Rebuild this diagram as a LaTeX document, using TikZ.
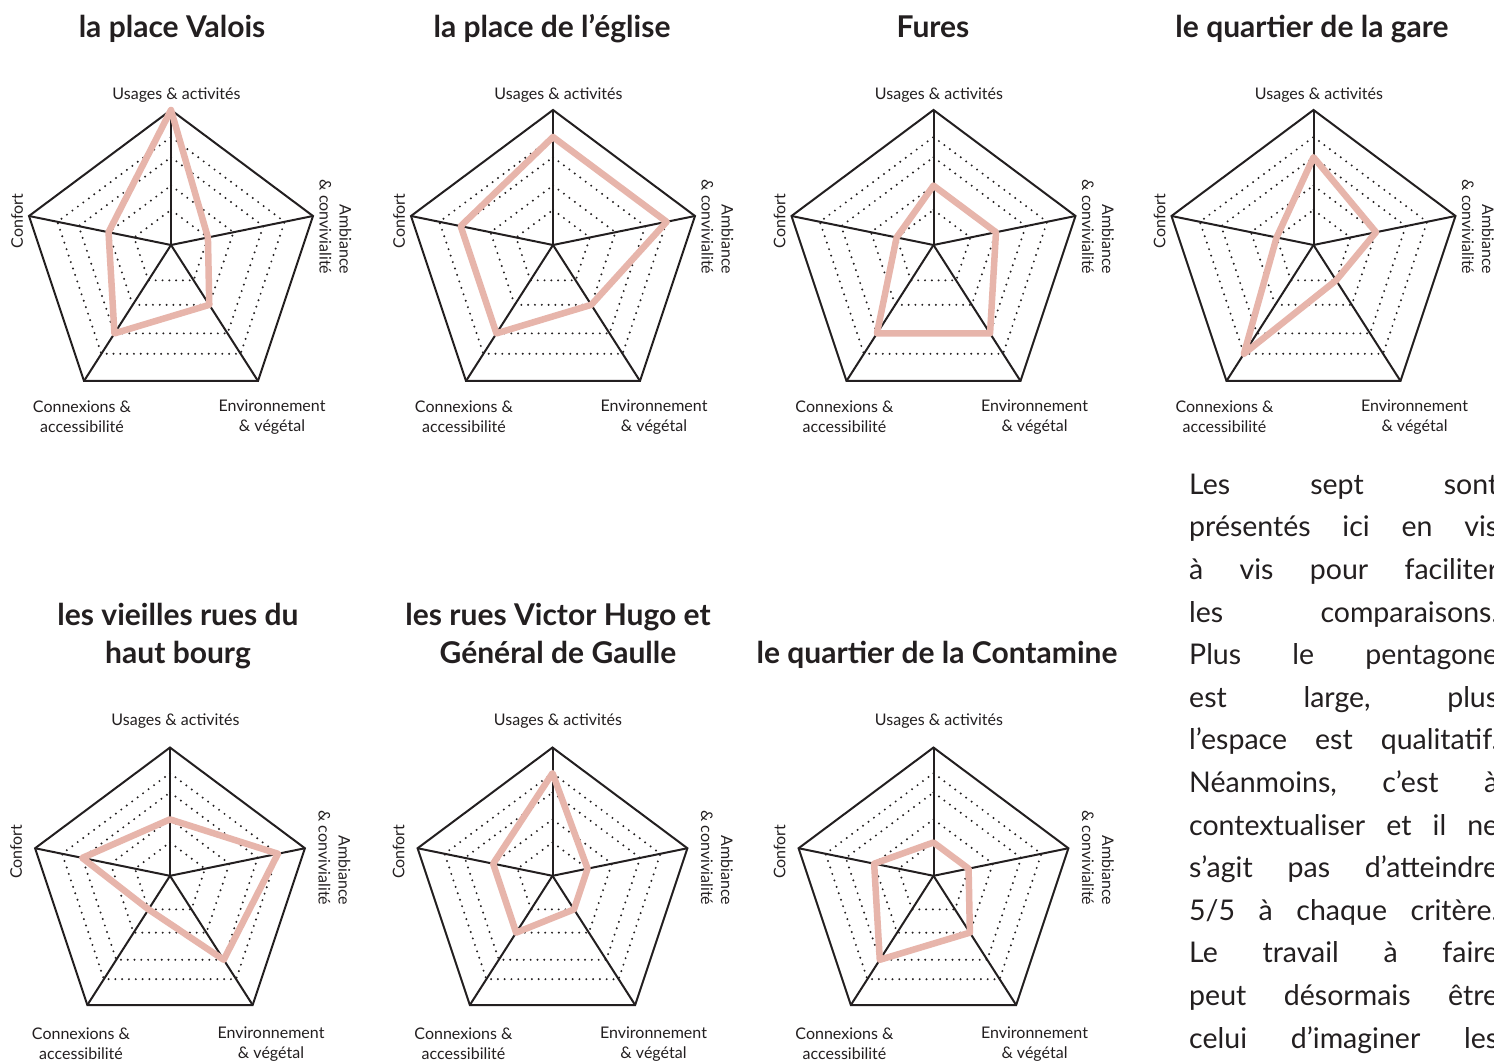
\documentclass[tikz,border=0pt]{standalone}
\usepackage{fontspec}
\setmainfont{Lato}
\usetikzlibrary{calc}
\definecolor{ink}{RGB}{35,31,32}
\definecolor{rose}{RGB}{231,181,171}
\tikzset{
  frame/.style={ink, line width=2pt, line join=miter},
  dotl/.style={ink, line width=2.2pt, line cap=round, dash pattern=on 0pt off 6.8pt},
  score/.style={rose, line width=6.5pt, line join=round},
  lbl/.style={ink, inner sep=0pt, font=\fontsize{16}{20}\selectfont},
  ttl/.style={ink, inner sep=0pt, anchor=base, font=\fontsize{30}{36}\selectfont\bfseries},
  para/.style={ink, inner sep=0pt, anchor=base west, font=\fontsize{28.5}{32}\selectfont},
}
% #1 name, #2 cx, #3 cy, #4 scale, #5..#9 usages, ambiance, environnement, connexions, confort
\newcommand\radarchart[9]{%
\begin{scope}[shift={(#2,#3)}]
  \coordinate (#1-o) at (0,0);
  \coordinate (#1-U) at (0,{-135*#4});
  \coordinate (#1-A) at ({142*#4},{-29*#4});
  \coordinate (#1-E) at ({87*#4},{136*#4});
  \coordinate (#1-C) at ({-87*#4},{136*#4});
  \coordinate (#1-F) at ({-142*#4},{-29*#4});
  \foreach \k in {0.26,0.44,0.65,0.8}
    \draw[dotl] ($(#1-o)!\k!(#1-U)$) -- ($(#1-o)!\k!(#1-A)$) -- ($(#1-o)!\k!(#1-E)$)
      -- ($(#1-o)!\k!(#1-C)$) -- ($(#1-o)!\k!(#1-F)$) -- cycle;
  \draw[frame] (#1-U) -- (#1-A) -- (#1-E) -- (#1-C) -- (#1-F) -- cycle;
  \foreach \v in {U,A,E,C,F} \draw[frame] (#1-o) -- (#1-\v);
  \draw[score] ($(#1-o)!#5!(#1-U)$) -- ($(#1-o)!#6!(#1-A)$) -- ($(#1-o)!#7!(#1-E)$)
      -- ($(#1-o)!#8!(#1-C)$) -- ($(#1-o)!#9!(#1-F)$) -- cycle;
  \node[lbl] (#1-lu) at (5.5,{-150-(1-#4)*100}) {Usages \& activités};
  \node[lbl, rotate=90] (#1-lf) at (-154,-24) {Confort};
  \node[lbl, rotate=-90, align=right] (#1-la) at (164.5,-18) {Ambiance\\\& convivialité};
  \node[lbl, align=center] (#1-lc) at (-89,{92+80*#4}) {Connexions \&\\accessibilité};
  \node[lbl, align=center] (#1-le) at (101,{92+80*#4}) {Environnement\\\& végétal};
\end{scope}}
\newcommand\jline[1]{\hbox to 309pt{#1}}
\begin{document}
\begin{tikzpicture}[x=1pt, y=-1pt]
  \fill[white] (0,0) rectangle (1494,1064);
  \useasboundingbox (0,0) rectangle (1494,1064);

  % titles
  \node[ttl] (t1) at (172,38) {la place Valois};
  \node[ttl] (t2) at (552,38) {la place de l’église};
  \node[ttl] (t3) at (933,38) {Fures};
  \node[ttl] (t4) at (1312,38) {le quartier de la gare};
  \node[ttl] (t5a) at (178,625) {les vieilles rues du};
  \node[ttl] (t5b) at (178,663) {haut bourg};
  \node[ttl] (t6a) at (558,625) {les rues Victor Hugo et};
  \node[ttl] (t6b) at (558,663) {Général de Gaulle};
  \node[ttl] (t7) at (937,663) {le quartier de la Contamine};

  % charts
  \radarchart{c1}{171}{245}{1}{1}{0.26}{0.44}{0.65}{0.44}
  \radarchart{c2}{553}{245}{1}{0.8}{0.8}{0.44}{0.65}{0.65}
  \radarchart{c3}{933.5}{245}{1}{0.44}{0.44}{0.65}{0.65}{0.26}
  \radarchart{c4}{1313.5}{245}{1}{0.65}{0.44}{0.26}{0.8}{0.26}
  \radarchart{c5}{170}{875.8}{0.95}{0.44}{0.8}{0.65}{0.26}{0.65}
  \radarchart{c6}{552.5}{875.8}{0.95}{0.8}{0.26}{0.26}{0.44}{0.44}
  \radarchart{c7}{933.5}{875.8}{0.95}{0.26}{0.26}{0.44}{0.65}{0.44}

  % paragraph
  \node[para] (p1)  at (1189,494.3) {\jline{Les\hfill sept\hfill sont}};
  \node[para] (p2)  at (1189,536.9) {\jline{présentés\hfill ici\hfill en\hfill vis}};
  \node[para] (p3)  at (1189,579.5) {\jline{à\hfill vis\hfill pour\hfill faciliter}};
  \node[para] (p4)  at (1189,622.1) {\jline{les\hfill comparaisons.}};
  \node[para] (p5)  at (1189,664.7) {\jline{Plus\hfill le\hfill pentagone}};
  \node[para] (p6)  at (1189,707.3) {\jline{est\hfill large,\hfill plus}};
  \node[para] (p7)  at (1189,749.9) {\jline{l’espace\hfill est\hfill qualitatif.}};
  \node[para] (p8)  at (1189,792.5) {\jline{Néanmoins,\hfill c’est\hfill à}};
  \node[para] (p9)  at (1189,835.1) {\jline{contextualiser\hfill et\hfill il\hfill ne}};
  \node[para] (p10) at (1189,877.7) {\jline{s’agit\hfill pas\hfill d’atteindre}};
  \node[para] (p11) at (1189,920.3) {\jline{5/5\hfill à\hfill chaque\hfill critère.}};
  \node[para] (p12) at (1189,962.9) {\jline{Le\hfill travail\hfill à\hfill faire}};
  \node[para] (p13) at (1189,1005.5) {\jline{peut\hfill désormais\hfill être}};
  \node[para] (p14) at (1189,1048.1) {\jline{celui\hfill d’imaginer\hfill les}};
\end{tikzpicture}
\end{document}
